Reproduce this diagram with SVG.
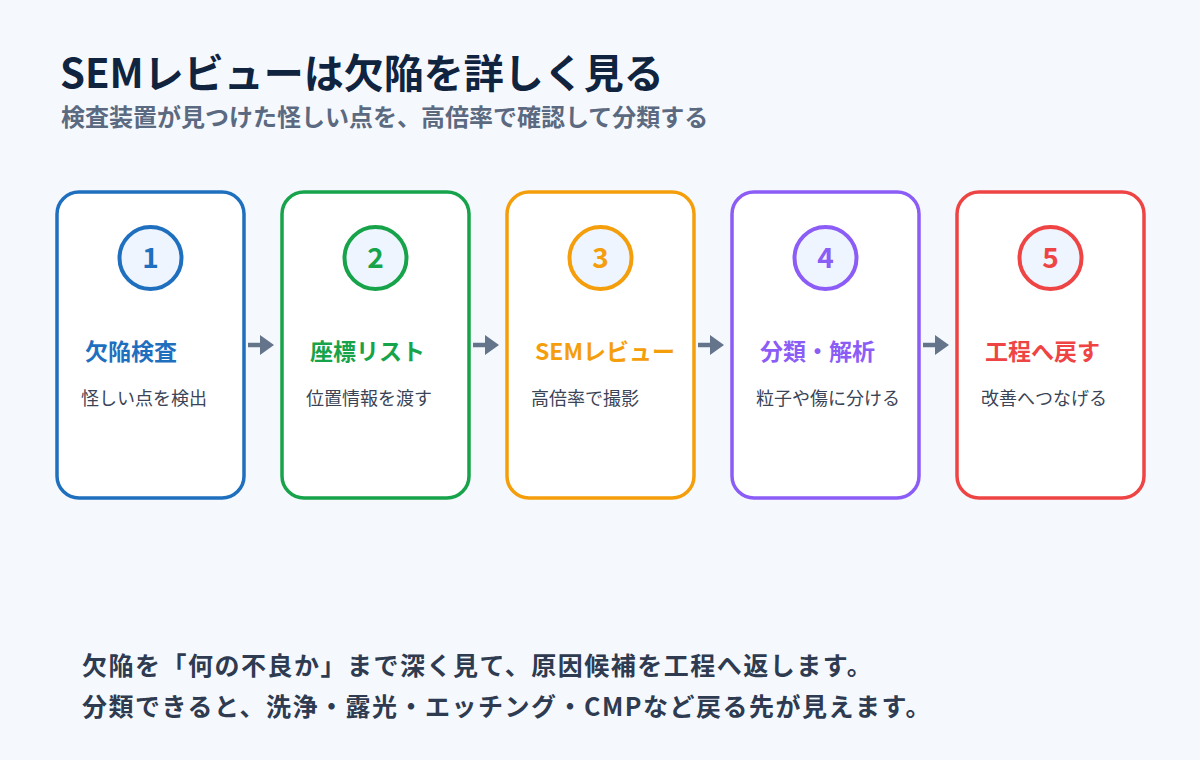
<svg xmlns="http://www.w3.org/2000/svg" width="1200" height="760" viewBox="0 0 1200 760">
<defs>
<style>
.t{font-family:"Noto Sans CJK JP","Noto Sans",sans-serif}
.title{font-size:40px;font-weight:700;fill:#10233f}
.sub{font-size:24px;font-weight:700;fill:#5b6a80}
.card{fill:#ffffff;stroke-width:3.5}
.num{fill:#eef5fe;stroke-width:4}
.numt{font-size:28px;font-weight:700;text-anchor:middle}
.h{font-size:23px;font-weight:700}
.d{font-size:18px;fill:#3a4456}
.foot{font-size:25px;font-weight:700;fill:#2e3b50;letter-spacing:1.5px}
.conn{stroke:#64748b;stroke-width:4.5;fill:none}
</style>
<marker id="ah" markerWidth="14" markerHeight="20" refX="0" refY="10" orient="auto" markerUnits="userSpaceOnUse">
<path d="M0,0 L14,10 L0,20 Z" fill="#64748b"/>
</marker>
</defs>
<rect width="1200" height="760" fill="#f5f9fe"/>
<text class="t title" x="60" y="88">SEMレビューは欠陥を詳しく見る</text>
<text class="t sub" x="61" y="126">検査装置が見つけた怪しい点を、高倍率で確認して分類する</text>

<g id="node1">
<rect class="card" x="57" y="192" width="187" height="306" rx="22" stroke="#1f6fbf"/>
<circle class="num" cx="150.5" cy="258" r="31" stroke="#1f6fbf"/>
<text class="t numt" x="150.5" y="268" fill="#1f6fbf">1</text>
<text class="t h" x="85" y="360" fill="#1f6fbf">欠陥検査</text>
<text class="t d" x="81" y="405">怪しい点を検出</text>
</g>
<g id="node2">
<rect class="card" x="282" y="192" width="187" height="306" rx="22" stroke="#17a34a"/>
<circle class="num" cx="375.5" cy="258" r="31" stroke="#17a34a"/>
<text class="t numt" x="375.5" y="268" fill="#17a34a">2</text>
<text class="t h" x="310" y="360" fill="#17a34a">座標リスト</text>
<text class="t d" x="306" y="405">位置情報を渡す</text>
</g>
<g id="node3">
<rect class="card" x="507" y="192" width="187" height="306" rx="22" stroke="#f59e0b"/>
<circle class="num" cx="600.5" cy="258" r="31" stroke="#f59e0b"/>
<text class="t numt" x="600.5" y="268" fill="#f59e0b">3</text>
<text class="t h" x="535" y="360" fill="#f59e0b">SEMレビュー</text>
<text class="t d" x="531" y="405">高倍率で撮影</text>
</g>
<g id="node4">
<rect class="card" x="732" y="192" width="187" height="306" rx="22" stroke="#8b5cf6"/>
<circle class="num" cx="825.5" cy="258" r="31" stroke="#8b5cf6"/>
<text class="t numt" x="825.5" y="268" fill="#8b5cf6">4</text>
<text class="t h" x="760" y="360" fill="#8b5cf6">分類・解析</text>
<text class="t d" x="756" y="405">粒子や傷に分ける</text>
</g>
<g id="node5">
<rect class="card" x="957" y="192" width="187" height="306" rx="22" stroke="#ef4444"/>
<circle class="num" cx="1050.5" cy="258" r="31" stroke="#ef4444"/>
<text class="t numt" x="1050.5" y="268" fill="#ef4444">5</text>
<text class="t h" x="985" y="360" fill="#ef4444">工程へ戻す</text>
<text class="t d" x="981" y="405">改善へつなげる</text>
</g>

<g id="connectors">
<path class="conn" d="M248,345 L260,345" marker-end="url(#ah)"/>
<path class="conn" d="M473,345 L485,345" marker-end="url(#ah)"/>
<path class="conn" d="M698,345 L710,345" marker-end="url(#ah)"/>
<path class="conn" d="M923,345 L935,345" marker-end="url(#ah)"/>
</g>

<text class="t foot" x="82" y="675">欠陥を「何の不良か」まで深く見て、原因候補を工程へ返します。</text>
<text class="t foot" x="82" y="716">分類できると、洗浄・露光・エッチング・CMPなど戻る先が見えます。</text>
</svg>
